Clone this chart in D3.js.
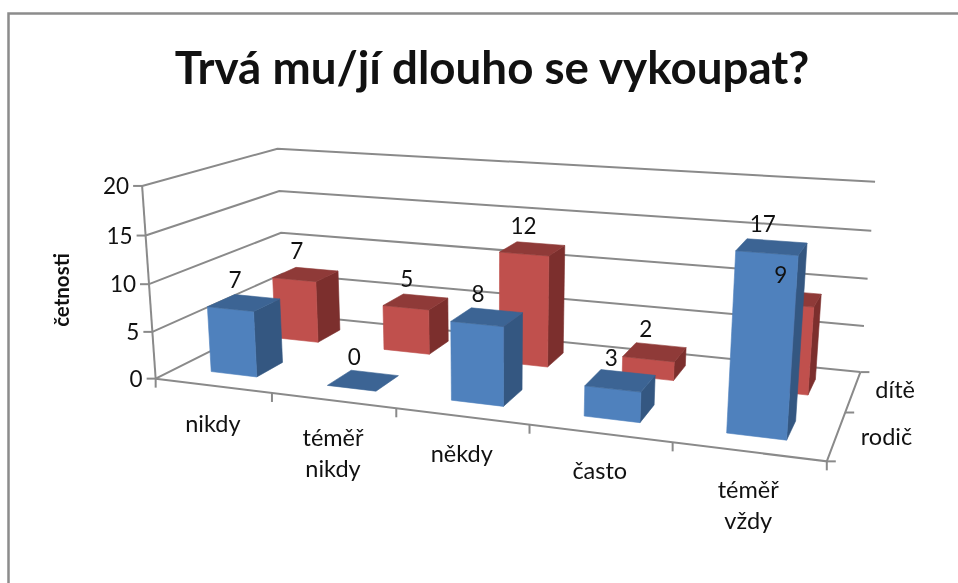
<!DOCTYPE html>
<html><head><meta charset="utf-8">
<script src="https://cdnjs.cloudflare.com/ajax/libs/d3/7.8.5/d3.min.js"></script>
<style>html,body{margin:0;padding:0;background:#fff}svg{display:block;filter:blur(.4px)}text{font-family:Lato,"Open Sans",sans-serif;fill:#111}</style>
</head><body><svg id="c" width="958" height="583"></svg>
<script>
const title = "Trvá mu/jí dlouho se vykoupat?";
const yTitle = "četnosti";
const categories = [["nikdy"],["téměř","nikdy"],["někdy"],["často"],["téměř","vždy"]];
const seriesNames = ["rodič","dítě"];
const rodic = [7,0,8,3,17];
const dite = [7,5,12,2,9];
const yTicks = [0,5,10,15,20];
// camera calibration: [x,y,z] plot coordinates -> screen anchor
const calib = [
 [0,0,0,155,378],[5,0,0,827,462],[5,0,2,860,371],[0,0,2,285,316],
 [0,20,0,142,186.5],[5,20,2,875,183],[0,20,2,277,148],
 [1,0,0,272,392.5],[2,0,0,396,408],[3,0,0,529,424.8],[4,0,0,673,442.8],
 [5,10,2,868,278],[0,10,2,281,232],[0,10,0,150,284]];
function solve(A,b){const n=b.length;A=A.map((r,i)=>[...r,b[i]]);
 for(let i=0;i<n;i++){let m=i;for(let k=i+1;k<n;k++)if(Math.abs(A[k][i])>Math.abs(A[m][i]))m=k;
  [A[i],A[m]]=[A[m],A[i]];
  for(let k=0;k<n;k++){if(k==i)continue;const f=A[k][i]/A[i][i];for(let j=i;j<=n;j++)A[k][j]-=f*A[i][j];}}
 return A.map((r,i)=>r[n]/r[i]);}
const rows=[],rhs=[];
calib.forEach(([x,y,z,u,v])=>{
 rows.push([x,y,z,1,0,0,0,0,-u*x,-u*y,-u*z]);rhs.push(u);
 rows.push([0,0,0,0,x,y,z,1,-v*x,-v*y,-v*z]);rhs.push(v);});
const N=11,ATA=d3.range(N).map(i=>d3.range(N).map(j=>d3.sum(rows,r=>r[i]*r[j]))),
 ATb=d3.range(N).map(i=>d3.sum(rows,(r,k)=>r[i]*rhs[k]));
const P=solve(ATA,ATb);
function proj(x,y,z){const w=P[8]*x+P[9]*y+P[10]*z+1;
 return [(P[0]*x+P[1]*y+P[2]*z+P[3])/w,(P[4]*x+P[5]*y+P[6]*z+P[7])/w];}

const catIdx=d3.range(categories.length);
const xScale=d3.scaleBand().domain(catIdx).range([0,5]).paddingInner(.6).paddingOuter(.3);
const zScale=d3.scaleBand().domain(seriesNames).range([0,2]).paddingInner(.6).paddingOuter(.3);
const yScale=d3.scaleLinear().domain([0,20]).range([0,20]);
const svg=d3.select("#c");
const line=d3.line();
const GRID="#8a8a8a";
const LABEL=22.5;
// frame
svg.append("path").attr("d","M8.5,583V13.5H958").attr("fill","none").attr("stroke","#8c8c8c").attr("stroke-width",2.5);
svg.append("text").attr("x",492).attr("y",84).attr("text-anchor","middle").attr("font-weight",700).attr("font-size",45.7).text(title);
// walls
const g=svg.append("g").attr("fill","none").attr("stroke",GRID).attr("stroke-width",2);
yTicks.forEach(t=>{const y=yScale(t);
 g.append("path").attr("d",line([proj(0,y,0),proj(0,y,2),proj(5,y,2)]));
 const p=proj(0,y,0);g.append("path").attr("d",line([p,[p[0]-9,p[1]]]));
 svg.append("text").attr("x",p[0]-13).attr("y",p[1]+8).attr("text-anchor","end").attr("font-size",LABEL).text(t);
});
g.append("path").attr("d",line([proj(0,0,0),proj(0,20,0)]));
g.append("path").attr("d",line([proj(0,0,0),proj(5,0,0),proj(5,0,2)]));
d3.range(6).forEach(i=>{const p=proj(i,0,0);g.append("path").attr("d",line([p,[p[0],p[1]+9]]));});
[0,1,2].forEach(i=>{const p=proj(5,0,i);g.append("path").attr("d",line([p,[p[0]+9,p[1]]]));});
// bars
const faces={rodič:{front:"#4f81bd",side:"#345781",top:"#3c6494"},dítě:{front:"#c0504d",side:"#7c2f2d",top:"#8f3a38"}};
const labels=[];
function bar(name,i,v){const x0=xScale(i),x1=x0+xScale.bandwidth(),z0=zScale(name),z1=z0+zScale.bandwidth(),y=yScale(v),c=faces[name];
 const G=svg.append("g");
 const poly=(pts,f)=>G.append("path").attr("d",line(pts)+"Z").attr("fill",f).attr("stroke",f).attr("stroke-width",.6);
 if(v>0){
  poly([proj(x1,0,z0),proj(x1,0,z1),proj(x1,y,z1),proj(x1,y,z0)],c.side);
  poly([proj(x0,0,z0),proj(x1,0,z0),proj(x1,y,z0),proj(x0,y,z0)],c.front);
 }
 poly([proj(x0,y,z0),proj(x1,y,z0),proj(x1,y,z1),proj(x0,y,z1)],c.top);
 const p=proj((x0+x1)/2,y,(z0+z1)/2);
 labels.push([p[0]-9,p[1]-23,v]);
}
catIdx.forEach(i=>bar("dítě",i,dite[i]));
catIdx.forEach(i=>bar("rodič",i,rodic[i]));
labels.forEach(([x,y,v])=>svg.append("text").attr("x",x).attr("y",y+8).attr("text-anchor","middle").attr("font-size",LABEL).text(v));
// category labels
catIdx.forEach(i=>{const p=proj(i+.5,0,0);
 categories[i].forEach((s,k)=>svg.append("text").attr("x",p[0]).attr("y",p[1]+46+k*31).attr("text-anchor","middle").attr("font-size",LABEL+1).text(s));});
// series labels
seriesNames.forEach((s,k)=>{const p=proj(5,0,k+.5);
 svg.append("text").attr("x",p[0]+50-k*8).attr("y",p[1]+9-k*2).attr("text-anchor","middle").attr("font-size",LABEL+1).text(s);});
svg.append("text").attr("transform","translate(69,290) rotate(-90)").attr("text-anchor","middle").attr("font-weight",700).attr("font-size",20.5).text(yTitle);
</script></body></html>
